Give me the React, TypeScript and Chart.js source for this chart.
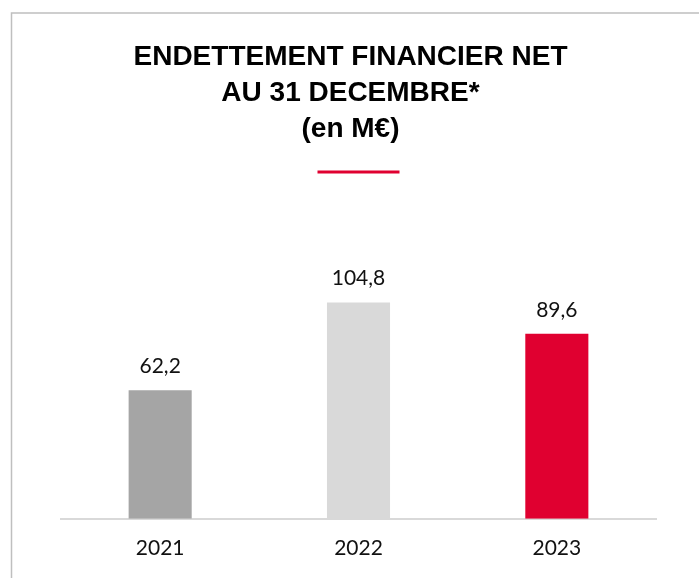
import React, { useEffect, useRef } from "react";
import { Chart, registerables } from "chart.js";

Chart.register(...registerables);

const categories = ["2021", "2022", "2023"];
const values = [62.2, 104.8, 89.6];
const barColors = ["#a5a5a5", "#d9d9d9", "#e00030"];
const titleLines = ["ENDETTEMENT FINANCIER NET", "AU 31 DECEMBRE*", "(en M€)"];

const W = 699;
const H = 578;

const framePlugin = {
  id: "frame",
  beforeDraw(chart: any) {
    const ctx = chart.ctx;
    ctx.save();
    ctx.strokeStyle = "#bfbfbf";
    ctx.lineWidth = 1.5;
    ctx.beginPath();
    ctx.moveTo(11.5, H + 5);
    ctx.lineTo(11.5, 13);
    ctx.lineTo(W + 5, 13);
    ctx.stroke();
    ctx.restore();
  },
  afterDraw(chart: any) {
    const ctx = chart.ctx;
    const opts = chart.options.plugins.frame || {};
    const lines: string[] = opts.title || [];
    ctx.save();
    ctx.fillStyle = "#000";
    ctx.textAlign = "center";
    ctx.textBaseline = "middle";
    ctx.font = "bold 28px 'Liberation Sans', Arial, sans-serif";
    lines.forEach((t, i) => ctx.fillText(t, 350.5, 57 + i * 36));
    const cx = (chart.chartArea.left + chart.chartArea.right) / 2;
    ctx.fillStyle = "#e00030";
    ctx.fillRect(cx - 41, 170.5, 82, 3);
    ctx.restore();
  },
};

const labelPlugin = {
  id: "valueLabels",
  afterDatasetsDraw(chart: any) {
    const ctx = chart.ctx;
    const meta = chart.getDatasetMeta(0);
    ctx.save();
    ctx.font = "21px Lato";
    ctx.fillStyle = "#111";
    ctx.textAlign = "center";
    ctx.textBaseline = "middle";
    meta.data.forEach((bar: any, i: number) => {
      const v = chart.data.datasets[0].data[i] as number;
      ctx.fillText(v.toFixed(1).replace(".", ","), bar.x, bar.y - 24);
    });
    ctx.restore();
  },
};

export default function App() {
  const ref = useRef<HTMLCanvasElement>(null);
  useEffect(() => {
    if (!ref.current) return;
    const chart = new Chart(ref.current, {
      type: "bar",
      data: {
        labels: categories,
        datasets: [
          {
            data: values,
            backgroundColor: barColors,
            borderWidth: 0,
            categoryPercentage: 1,
            barPercentage: 0.318,
          },
        ],
      },
      options: {
        responsive: false,
        animation: false,
        devicePixelRatio: 1,
        layout: { padding: { left: 61, right: 43, top: 271, bottom: 0 } },
        plugins: {
          legend: { display: false },
          tooltip: { enabled: false },
          title: { display: false },
          frame: { title: titleLines },
        } as any,
        scales: {
          x: {
            grid: { display: false, drawTicks: false },
            border: { display: true, color: "#d9d9d9", width: 2 },
            ticks: { color: "#111", font: { family: "Lato", size: 21 }, padding: 17 },
          },
          y: { display: false, min: 0, max: 120 },
        },
      },
      plugins: [framePlugin, labelPlugin],
    });
    return () => chart.destroy();
  }, []);
  return (
    <div style={{ position: "fixed", left: 0, top: 0, width: W, height: H, background: "#fff" }}>
      <canvas ref={ref} width={W} height={H} style={{ display: "block" }} />
    </div>
  );
}
